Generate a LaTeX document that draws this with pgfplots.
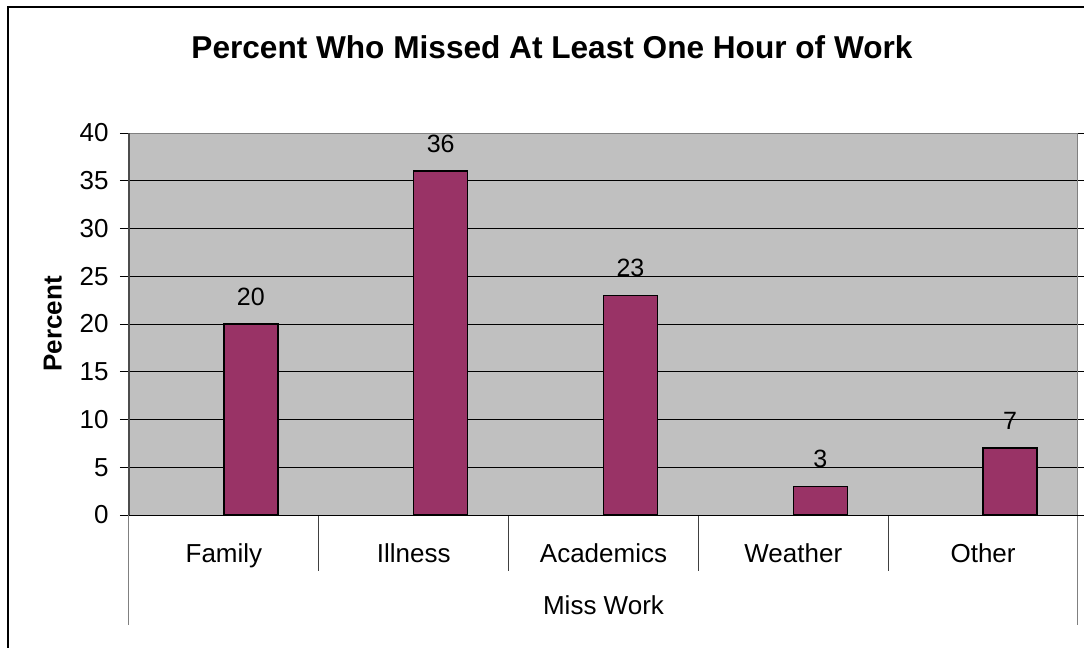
\documentclass[border=0pt]{standalone}
\usepackage{fontspec}
\setmainfont{Liberation Sans}
\usepackage{pgfplots}
\pgfplotsset{compat=1.18}

\definecolor{barplum}{HTML}{993366}
\definecolor{plotbg}{HTML}{C0C0C0}
\definecolor{edgegray}{HTML}{808080}

% 1 px of the reference = 0.5pt
\begin{document}
\begin{tikzpicture}
\useasboundingbox (0,0) rectangle (542pt,-324pt);
\clip (0,0) rectangle (542pt,-324pt);
\draw[line width=1pt] (4pt,-3.5pt) rectangle (560pt,-340pt);

\begin{axis}[
    at={(64.5pt,-257.5pt)}, anchor=south west,
    scale only axis,
    width=474.5pt, height=191pt,
    ybar,
    bar width=27pt,
    bar shift=13.5pt,
    xmin=-0.5, xmax=4.5,
    ymin=0, ymax=40,
    clip=false,
    axis background/.style={fill=plotbg},
    axis line style={draw=edgegray, line width=0.5pt},
    ymajorgrids,
    grid style={black, line width=0.5pt},
    tick align=outside,
    major tick length=4.5pt,
    xtick={0,1,2,3,4},
    xticklabels={Family,Illness,Academics,Weather,Other},
    xtick style={draw=none},
    ytick={0,5,...,40},
    ytick style={black, line width=0.5pt},
    ticklabel style={font=\fontsize{13}{15}\selectfont},
    /pgf/number format/assume math mode=true,
    xticklabel style={anchor=base, yshift=-19pt, inner sep=0pt},
    yticklabel style={anchor=east, inner sep=0pt, xshift=-5.5pt},
    title={Percent Who Missed At Least One Hour of Work},
    title style={at={(axis description cs:0.4457,1)}, anchor=base, yshift=31.5pt,
        font=\fontsize{15.8}{18}\selectfont\bfseries},
    xlabel={Miss Work},
    xlabel style={at={(axis description cs:0.5,0)}, anchor=base, yshift=-49.5pt,
        inner sep=0pt, font=\fontsize{13}{15}\selectfont},
    ylabel={Percent},
    ylabel style={at={(axis description cs:-0.0709,0.5)}, anchor=base, rotate=0,
        inner sep=0pt, font=\fontsize{13}{15}\selectfont\bfseries},
    nodes near coords,
    nodes near coords style={anchor=base, inner sep=0pt, yshift=9.5pt,
        font=\fontsize{12.5}{15}\selectfont},
]
\addplot[fill=barplum, draw=black, line width=0.75pt]
    coordinates {(0,20) (1,36) (2,23) (3,3) (4,7)};

% category separators under the axis
\pgfplotsinvokeforeach{0.5,1.5,2.5,3.5}{
    \draw[black!75, line width=0.5pt] (axis cs:#1,0) -- ([yshift=-28pt]axis cs:#1,0);
}
\draw[edgegray, line width=0.5pt] (axis cs:-0.5,0) -- ([yshift=-55pt]axis cs:-0.5,0);
\draw[edgegray, line width=0.5pt] (axis cs:4.5,0) -- ([yshift=-55pt]axis cs:4.5,0);
\draw[black!70, line width=0.75pt] (axis cs:-0.5,0) -- (axis cs:-0.5,40);
\draw[black, line width=0.5pt] (axis cs:-0.5,0) -- (axis cs:4.5,0);
\end{axis}
\end{tikzpicture}
\end{document}
